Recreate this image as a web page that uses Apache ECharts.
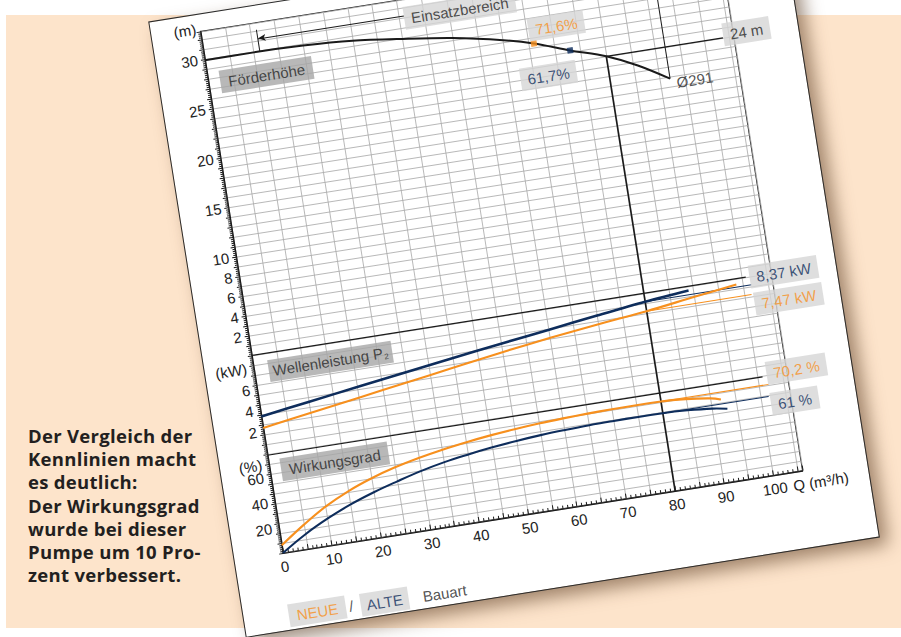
<!DOCTYPE html>
<html><head><meta charset="utf-8">
<script src="https://cdn.jsdelivr.net/npm/echarts@6.0.0/dist/echarts.min.js"></script>
<style>
html,body{margin:0;padding:0;background:#fff;}
body{width:901px;height:637px;overflow:hidden;position:relative;}
#peach{position:absolute;left:6px;top:15px;width:895px;height:613px;background:#fde4cb;}
#note{position:absolute;left:28px;top:424px;font:700 18.5px/23.2px "Open Sans","Noto Sans",sans-serif;color:#231f20;white-space:nowrap;letter-spacing:0.3px;}
#paper{position:absolute;left:234.3px;top:8.3px;width:640px;height:622px;background:#fff;transform-origin:49px 545px;transform:rotate(-9deg);outline:1px solid #2b2b2b;box-shadow:8px 9px 18px rgba(95,65,40,0.6);}
#chart{position:absolute;left:0;top:0;width:640px;height:622px;}
</style></head>
<body>
<div id="peach"></div>
<div id="note">Der Vergleich der<br>Kennlinien macht<br>es deutlich:<br>Der Wirkungsgrad<br>wurde bei dieser<br>Pumpe um 10 Pro-<br>zent verbessert.</div>
<div id="paper"><div id="chart"></div></div>
<script>
// ---- data ----
const qTickLabels = [0, 10, 20, 30, 40, 50, 60, 70, 80, 90, 100];
const headTickLabels = [2, 4, 6, 8, 10, 15, 20, 25, 30];
const powerTickLabels = [2, 4, 6];
const effTickLabels = [20, 40, 60];

const headQ = [0, 10, 20, 30, 40, 50, 60, 66, 73, 80, 86, 92];
const headH = [29.9, 29.9, 29.8, 29.5, 28.9, 28.2, 27.2, 26.4, 25.15, 24.0, 22.6, 20.8];

const powerOldQ = [0, 10, 20, 30, 40, 50, 60, 70, 80, 89];
const powerOld  = [3.39, 4.05, 4.7, 5.35, 5.98, 6.6, 7.19, 7.8, 8.37, 8.77];
const powerNewQ = [0, 10, 20, 30, 40, 50, 60, 70, 80, 90, 98.7];
const powerNew  = [2.3, 3.0, 3.7, 4.4, 5.1, 5.8, 6.42, 6.97, 7.47, 8.1, 8.62];

const effOldQ = [0, 5, 10, 15, 20, 25, 30, 35, 40, 45, 50, 55, 60, 65, 70, 75, 80, 85, 90, 93];
const effOld  = [0, 11.5, 21, 29, 35.5, 41, 46, 50, 53, 55.5, 57.5, 59, 60, 60.7, 61, 61.1, 61, 60.2, 58.5, 56.5];
const effNewQ = [0, 5, 10, 15, 20, 25, 30, 35, 40, 45, 50, 55, 60, 65, 70, 75, 80, 85, 90, 92];
const effNew  = [6, 19, 30.5, 39.5, 46.5, 52, 56.3, 59.8, 62.6, 64.9, 66.7, 68.1, 69.1, 69.8, 70.2, 70.3, 70.2, 69, 66.5, 64.4];

const bepNew = [66, 26.4];      // Q, H of best point (new)
const bepOld = [73, 25.15];     // Q, H of best point (old)
const dutyQ = 80, dutyH = 24;
const dutyPowerNew = 7.47, dutyPowerOld = 8.37;
const dutyEffNew = 70.2, dutyEffOld = 61;
const rangeQ = [11.2, 92];      // Einsatzbereich limits
const headEndH = 20.8;

// ---- chart ----
const FONT = '"Liberation Sans", Arial, Helvetica, sans-serif';
const ORANGE = '#f7901e', NAVY = '#0e2d5c', INK = '#1a1a1a', GRIDC = '#ababab';
const zip = (a, b) => a.map((v, i) => [v, b[i]]);

const series = [];
function seg(idx, pts, color, width, z, extra) {
  series.push(Object.assign({
    type: 'line', xAxisIndex: idx, yAxisIndex: idx, data: pts, symbol: 'none',
    silent: true, clip: false, lineStyle: { color: color, width: width }, z: z || 3
  }, extra || {}));
}

// section borders
seg(0, [[0, 0], [100.8, 0]], INK, 1.2, 2);
seg(0, [[0, -10.1], [101, -10.1]], INK, 1.2, 2);
// duty point lines
seg(0, [[dutyQ, -20], [dutyQ, dutyH]], INK, 1.6, 2);
seg(0, [[dutyQ, dutyH], [103.8, dutyH]], INK, 1.2, 2);
// Einsatzbereich
seg(0, [[rangeQ[0], 29.9], [rangeQ[0], 32.1]], INK, 1, 2, {
  markLine: {
    silent: true, animation: false, symbol: ['none', 'arrow'], symbolSize: [5, 8],
    label: { show: false }, lineStyle: { color: INK, width: 1, type: 'solid' },
    data: [[{ coord: [41, 31.2] }, { coord: [rangeQ[0], 31.2] }],
           [{ coord: [63.6, 31.2] }, { coord: [rangeQ[1], 31.2] }]]
  }
});
seg(0, [[rangeQ[1], headEndH], [rangeQ[1], 32.5]], INK, 1, 2);

// head curve
seg(0, zip(headQ, headH), INK, 2, 4, { smooth: 0.3 });
// power curves
seg(1, zip(powerOldQ, powerOld), NAVY, 2.6, 4, { smooth: 0.3 });
seg(1, zip(powerNewQ, powerNew), ORANGE, 2.1, 5, { smooth: 0.3 });
seg(1, [[dutyQ, dutyPowerOld], [101.7, dutyPowerOld]], NAVY, 1, 4);
seg(1, [[dutyQ, dutyPowerNew], [101.4, dutyPowerNew]], ORANGE, 1, 4);
// efficiency curves
seg(2, zip(effOldQ, effOld), NAVY, 2.1, 4, { smooth: 0.4 });
seg(2, zip(effNewQ, effNew), ORANGE, 2.1, 5, { smooth: 0.4 });
seg(2, [[dutyQ, dutyEffOld], [101.6, dutyEffOld]], NAVY, 1, 4);
seg(2, [[dutyQ, dutyEffNew], [102, dutyEffNew]], ORANGE, 1, 4);

// best-point markers
series.push({ type: 'scatter', xAxisIndex: 0, yAxisIndex: 0, symbol: 'rect', symbolSize: 6, silent: true, z: 8,
  data: [{ value: bepNew, itemStyle: { color: ORANGE } }, { value: bepOld, itemStyle: { color: NAVY } }] });

// annotation boxes
const DARKBOX = '#a6a6a6', LIGHTBOX = '#d6d6d6', TXT = '#262626';
const notes = [
  { name: 'Förderhöhe', value: [11.8, 27.5], label: { color: TXT, backgroundColor: DARKBOX, padding: [4, 8, 3, 8] } },
  { name: 'Wellenleistung P2', value: [15.5, -1.82], label: { color: TXT, backgroundColor: DARKBOX, padding: [3, 4, 3, 4] } },
  { name: 'Wirkungsgrad', value: [13.2, -11.76], label: { color: TXT, backgroundColor: DARKBOX, padding: [4, 8, 3, 8] } },
  { name: 'Einsatzbereich', value: [52.3, 30.9], label: { color: TXT, backgroundColor: LIGHTBOX, padding: [4, 7, 3, 7] } },
  { name: '71,6%', value: [71, 27.8], label: { color: ORANGE, backgroundColor: LIGHTBOX, padding: [4, 7, 3, 7] } },
  { name: '61,7%', value: [67.9, 23.0], label: { color: NAVY, backgroundColor: LIGHTBOX, padding: [4, 7, 3, 7] } },
  { name: '24 m', value: [108.7, 24.3], label: { color: TXT, backgroundColor: LIGHTBOX, padding: [4, 7, 3, 7] } },
  { name: 'Ø291', value: [96.9, 20.3], label: { color: TXT } },
  { name: '8,37 kW', value: [108.5, -0.05], label: { color: NAVY, backgroundColor: LIGHTBOX, padding: [4, 7, 3, 7] } },
  { name: '7,47 kW', value: [108.7, -2.79], label: { color: ORANGE, backgroundColor: LIGHTBOX, padding: [4, 7, 3, 7] } },
  { name: '70,2 %', value: [108, -9.83], label: { color: ORANGE, backgroundColor: LIGHTBOX, padding: [4, 7, 3, 7] } },
  { name: '61 %', value: [106.7, -12.96], label: { color: NAVY, backgroundColor: LIGHTBOX, padding: [4, 7, 3, 7] } },
  { name: 'NEUE', value: [5.0, -26.3], label: { color: ORANGE, backgroundColor: LIGHTBOX, padding: [4, 8, 3, 8] } },
  { name: '/', value: [11.9, -26.3], label: { color: TXT } },
  { name: 'ALTE', value: [18.7, -26.4], label: { color: NAVY, backgroundColor: LIGHTBOX, padding: [4, 6, 3, 6] } },
  { name: 'Bauart', value: [30.9, -26.5], label: { color: TXT } }
];
series.push({
  type: 'scatter', xAxisIndex: 0, yAxisIndex: 0, symbolSize: 1, itemStyle: { color: 'rgba(0,0,0,0)' },
  silent: true, clip: false, z: 10,
  label: {
    show: true, position: 'inside', fontSize: 15, fontFamily: FONT, lineHeight: 16,
    formatter: p => p.name === 'Wellenleistung P2' ? 'Wellenleistung P{s|2}' : p.name,
    rich: { s: { fontSize: 8, lineHeight: 16, verticalAlign: 'bottom', padding: [6, 0, 0, 1] } }
  },
  labelLayout: { hideOverlap: false },
  data: notes
});

const gridBase = { left: 49, width: 526, containLabel: false };
const hiddenX = i => ({ gridIndex: i, type: 'value', min: 0, max: 106, show: false });
const labelStyle = { fontSize: 15, fontFamily: FONT, color: '#222' };

const option = {
  animation: false,
  grid: [
    Object.assign({ top: 17, height: 528, show: true, borderColor: INK, borderWidth: 1 }, gridBase),
    Object.assign({ bottom: 179, height: 107, show: false }, gridBase),
    Object.assign({ bottom: 77, height: 103.2, show: false }, gridBase)
  ],
  xAxis: [
    {
      gridIndex: 0, type: 'value', min: 0, max: 106, interval: 5,
      axisLine: { onZero: false, lineStyle: { color: INK, width: 1.2 } },
      axisTick: { inside: true, length: 5, lineStyle: { color: INK } },
      minorTick: { show: true, splitNumber: 5, length: 3, lineStyle: { color: INK } },
      splitLine: { show: true, lineStyle: { color: GRIDC, width: 0.8 } },
      axisLabel: Object.assign({ margin: 6, showMaxLabel: false,
        formatter: v => qTickLabels.includes(v) ? String(v) : '' }, labelStyle),
      name: 'Q (m³/h)', nameLocation: 'end', nameGap: -18,
      nameTextStyle: Object.assign({ verticalAlign: 'top', align: 'left', padding: [6, 0, 0, 0] }, labelStyle)
    },
    hiddenX(1), hiddenX(2)
  ],
  yAxis: [
    {
      gridIndex: 0, type: 'value', min: -20, max: 32.8, interval: 1,
      axisLine: { show: true, lineStyle: { color: INK, width: 1.2 } },
      axisTick: { show: true, inside: false, length: 4, lineStyle: { color: INK } },
      minorTick: { show: true, splitNumber: 5, length: 2.5, lineStyle: { color: INK } },
      splitLine: { show: true, lineStyle: { color: GRIDC, width: 0.8 } },
      axisLabel: Object.assign({ margin: 7, showMaxLabel: false,
        formatter: v => headTickLabels.includes(v) ? String(v) : '' }, labelStyle),
      name: '(m)', nameLocation: 'end', nameGap: 3,
      nameTextStyle: Object.assign({ align: 'right', verticalAlign: 'middle', padding: [0, 4, 0, 0] }, labelStyle)
    },
    {
      gridIndex: 1, type: 'value', min: 0, max: 10, interval: 2,
      axisLine: { show: false }, axisTick: { show: false }, splitLine: { show: false },
      axisLabel: Object.assign({ margin: 7,
        formatter: v => v === 8 ? '(kW)' : (powerTickLabels.includes(v) ? String(v) : '') }, labelStyle)
    },
    {
      gridIndex: 2, type: 'value', min: 0, max: 80, interval: 10,
      axisLine: { show: false }, axisTick: { show: false }, splitLine: { show: false },
      axisLabel: Object.assign({ margin: 7,
        formatter: v => v === 70 ? '(%)' : (effTickLabels.includes(v) ? String(v) : '') }, labelStyle)
    }
  ],
  series: series
};

const chart = echarts.init(document.getElementById('chart'), null, { renderer: 'svg', width: 640, height: 622 });
chart.setOption(option);
</script>
</body></html>
